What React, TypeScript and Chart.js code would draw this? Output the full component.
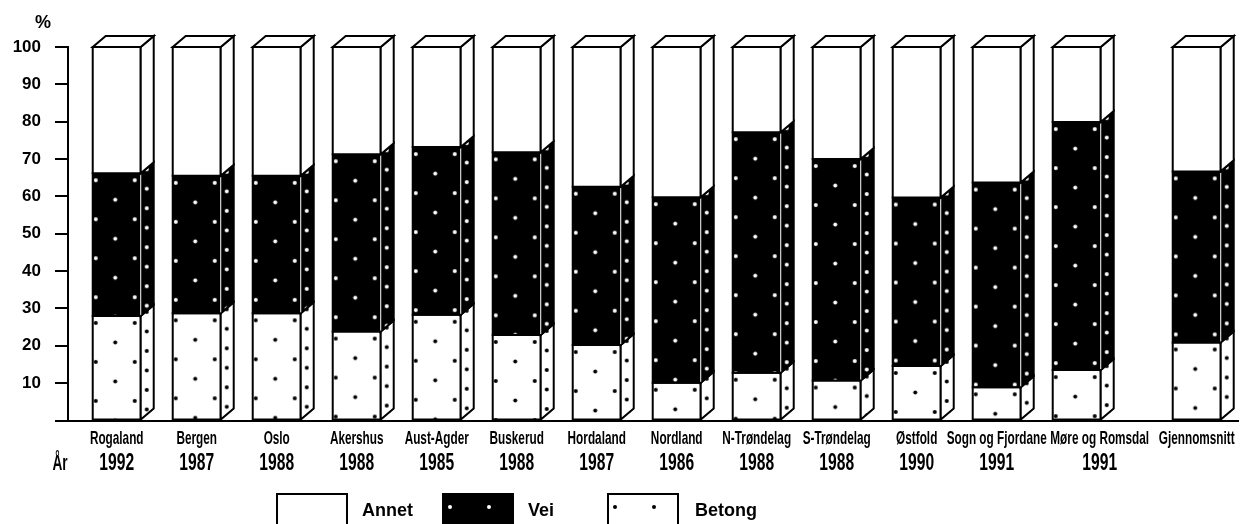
import { useEffect, useRef } from 'react';
import { Chart, registerables } from 'chart.js';

Chart.register(...registerables);

// Counties (and the overall average), with the survey year for each
const categories = [
  'Rogaland', 'Bergen', 'Oslo', 'Akershus', 'Aust-Agder', 'Buskerud', 'Hordaland',
  'Nordland', 'N-Trøndelag', 'S-Trøndelag', 'Østfold', 'Sogn og Fjordane',
  'Møre og Romsdal', 'Gjennomsnitt',
];
const years = [
  '1992', '1987', '1988', '1988', '1985', '1988', '1987',
  '1986', '1988', '1988', '1990', '1991', '1991', '',
];
// Slot index along the x axis; the average stands a little apart from the rest
const slots = [0, 1, 2, 3, 4, 5, 6, 7, 8, 9, 10, 11, 12, 13.5];

// Shares in percent
const betong = [28.0, 28.7, 28.7, 23.8, 28.3, 22.9, 20.2, 10.1, 12.8, 10.7, 14.6, 8.9, 13.5, 20.9];
const vei = [38.2, 36.8, 36.8, 47.5, 44.9, 48.9, 42.4, 49.7, 64.4, 59.3, 45.1, 54.8, 66.4, 45.8];
const annet = [33.8, 34.5, 34.5, 28.7, 26.8, 28.2, 37.4, 40.2, 22.8, 30.0, 40.3, 36.3, 20.1, 33.3];

const yTickValues = [0, 10, 20, 30, 40, 50, 60, 70, 80, 90, 100];
const unitLabel = '%';
const yearLabel = 'År';

type Look = { fill: string; dot: string | null };
const looks: Record<string, Look> = {
  Betong: { fill: '#ffffff', dot: '#000000' },
  Vei: { fill: '#000000', dot: '#ffffff' },
  Annet: { fill: '#ffffff', dot: null },
};

const DEPTH_X = 13;
const DEPTH_Y = 11;
const TILE = 39;
// The long Møre og Romsdal caption is set a little to the right so it clears its neighbour
const CAPTION_SHIFT: Record<string, number> = { 'Møre og Romsdal': 23 };

function makeTile(fill: string, dot: string, pts: number[][]) {
  const c = document.createElement('canvas');
  c.width = TILE;
  c.height = TILE;
  const g = c.getContext('2d')!;
  g.fillStyle = fill;
  g.fillRect(0, 0, TILE, TILE);
  g.fillStyle = dot;
  pts.forEach(([x, y]) => {
    g.beginPath();
    g.arc(x, y, 2, 0, Math.PI * 2);
    g.fill();
  });
  return c;
}

const tiles: Record<string, { front: HTMLCanvasElement; side: HTMLCanvasElement } | null> = {};
function getTiles(name: string) {
  if (!(name in tiles)) {
    const look = looks[name];
    tiles[name] = look.dot
      ? {
          front: makeTile(look.fill, look.dot, [[3, 7], [22.5, 26.5]]),
          side: makeTile(look.fill, look.dot, [[6, 7], [6, 26.5]]),
        }
      : null;
  }
  return tiles[name];
}

function patternAt(ctx: CanvasRenderingContext2D, tile: HTMLCanvasElement, x: number, y: number) {
  const p = ctx.createPattern(tile, 'repeat')!;
  p.setTransform(new DOMMatrix([1, 0, 0, 1, x, y]));
  return p;
}

function paintFace(ctx: CanvasRenderingContext2D, pts: number[][], name: string, which: 'front' | 'side', ax: number, ay: number) {
  const look = looks[name];
  const t = getTiles(name);
  ctx.beginPath();
  pts.forEach(([x, y], k) => (k ? ctx.lineTo(x, y) : ctx.moveTo(x, y)));
  ctx.closePath();
  ctx.fillStyle = look.fill;
  ctx.fill();
  if (t) {
    ctx.fillStyle = patternAt(ctx, t[which], ax, ay);
    ctx.fill();
  }
  ctx.lineWidth = 2;
  ctx.strokeStyle = '#000';
  ctx.stroke();
}

// Gives each stacked bar a textured front, a receding side and a lid
const boxPlugin = {
  id: 'boxes',
  afterDatasetsDraw(chart: any) {
    const ctx: CanvasRenderingContext2D = chart.ctx;
    const n = chart.data.datasets.length;
    ctx.save();
    ctx.lineJoin = 'miter';
    for (let i = 0; i < categories.length; i++) {
      for (let d = 0; d < n; d++) {
        const ds = chart.data.datasets[d];
        const el = chart.getDatasetMeta(d).data[i];
        const { x, y, base, width } = el.getProps(['x', 'y', 'base', 'width'], true);
        const left = x - width / 2;
        const right = x + width / 2;
        const top = Math.min(y, base);
        const bottom = Math.max(y, base);
        paintFace(ctx, [[left, top], [right, top], [right, bottom], [left, bottom]], ds.label, 'front', left, top);
        paintFace(
          ctx,
          [[right, top], [right + DEPTH_X, top - DEPTH_Y], [right + DEPTH_X, bottom - DEPTH_Y], [right, bottom]],
          ds.label, 'side', right, top - DEPTH_Y,
        );
        if (looks[ds.label].fill === '#000000') {
          ctx.beginPath();
          ctx.moveTo(right, top + 1);
          ctx.lineTo(right, bottom - 1);
          ctx.lineWidth = 1;
          ctx.strokeStyle = '#ffffff';
          ctx.stroke();
        }
        if (d === n - 1) {
          paintFace(
            ctx,
            [[left, top], [left + DEPTH_X, top - DEPTH_Y], [right + DEPTH_X, top - DEPTH_Y], [right, top]],
            ds.label, 'front', left, top,
          );
        }
      }
    }
    ctx.restore();
  },
  afterDraw(chart: any) {
    const ctx: CanvasRenderingContext2D = chart.ctx;
    const xs = chart.scales.x;
    ctx.save();
    ctx.fillStyle = '#000';

    // unit over the value axis
    ctx.font = 'bold 18px "Liberation Sans", Arial, sans-serif';
    ctx.textAlign = 'center';
    ctx.textBaseline = 'alphabetic';
    ctx.fillText(unitLabel, 43, 28);

    // condensed two-line category labels
    const line = (text: string, px: number, py: number, size: number, squeeze: number) => {
      ctx.save();
      ctx.translate(px, py);
      ctx.scale(squeeze, 1);
      ctx.font = `bold ${size}px "Liberation Sans", Arial, sans-serif`;
      ctx.textAlign = 'center';
      ctx.textBaseline = 'alphabetic';
      ctx.fillText(text, 0, 0);
      ctx.restore();
    };
    categories.forEach((name, i) => {
      const px = xs.getPixelForValue(slots[i]) + (CAPTION_SHIFT[name] || 0);
      line(name, px, 444, 19, 0.62);
      if (years[i]) line(years[i], px, 470, 23, 0.68);
    });
    line(yearLabel, 60, 470, 22, 0.62);

    // legend, in stacking order from the top
    const legendItems = [
      { name: 'Annet', box: 277, text: 362 },
      { name: 'Vei', box: 443, text: 528 },
      { name: 'Betong', box: 608, text: 695 },
    ];
    legendItems.forEach((it) => {
      const look = looks[it.name];
      const t = getTiles(it.name);
      const bx = it.box;
      const by = 494;
      ctx.fillStyle = look.fill;
      ctx.fillRect(bx, by, 70, 40);
      if (t) {
        ctx.fillStyle = patternAt(ctx, t.front, bx + 4, by + 6);
        ctx.fillRect(bx, by, 70, 40);
      }
      ctx.lineWidth = 2;
      ctx.strokeStyle = '#000';
      ctx.strokeRect(bx, by, 70, 40);
      ctx.fillStyle = '#000';
      ctx.font = 'bold 18px "Liberation Sans", Arial, sans-serif';
      ctx.textAlign = 'left';
      ctx.fillText(it.name, it.text, 516);
    });
    ctx.restore();
  },
};

export default function App() {
  const ref = useRef<HTMLCanvasElement>(null);

  useEffect(() => {
    const canvas = ref.current;
    if (!canvas) return;
    const series = [
      { label: 'Betong', values: betong },
      { label: 'Vei', values: vei },
      { label: 'Annet', values: annet },
    ];
    const chart = new Chart(canvas, {
      type: 'bar',
      data: {
        datasets: series.map((s) => ({
          label: s.label,
          data: slots.map((slot, i) => ({ x: slot, y: s.values[i] })),
          backgroundColor: looks[s.label].fill,
          borderWidth: 0,
          barThickness: 48,
        })),
      },
      options: {
        animation: false,
        responsive: false,
        maintainAspectRatio: false,
        layout: { padding: { top: 47, right: 4, left: 0, bottom: 0 } },
        plugins: { legend: { display: false }, tooltip: { enabled: false } },
        scales: {
          x: {
            type: 'linear',
            stacked: true,
            offset: false,
            min: -0.609,
            max: 14.016,
            grid: { display: false },
            border: { display: true, color: '#000', width: 2 },
            ticks: { display: false },
            afterFit: (s: any) => {
              s.height = 103.5;
            },
          },
          y: {
            stacked: true,
            min: 0,
            max: 100,
            afterBuildTicks: (s: any) => {
              s.ticks = yTickValues.map((v) => ({ value: v }));
            },
            ticks: {
              padding: 14,
              color: '#000',
              font: { family: '"Liberation Sans", Arial, sans-serif', weight: 'bold', size: 17 },
              callback: (v: any) => (v === 0 ? '' : String(v)),
            },
            grid: { drawOnChartArea: false, drawTicks: true, tickLength: 13, color: '#000', lineWidth: 2 },
            border: { display: true, color: '#000', width: 2 },
            afterFit: (s: any) => {
              s.width = 68;
            },
          },
        },
      } as any,
      plugins: [boxPlugin],
    });
    return () => chart.destroy();
  }, []);

  return (
    <div style={{ position: 'fixed', left: 0, top: 0, width: 1242, height: 524, background: '#fff' }}>
      <canvas ref={ref} width={1242} height={524} style={{ display: 'block', width: 1242, height: 524 }} />
    </div>
  );
}
